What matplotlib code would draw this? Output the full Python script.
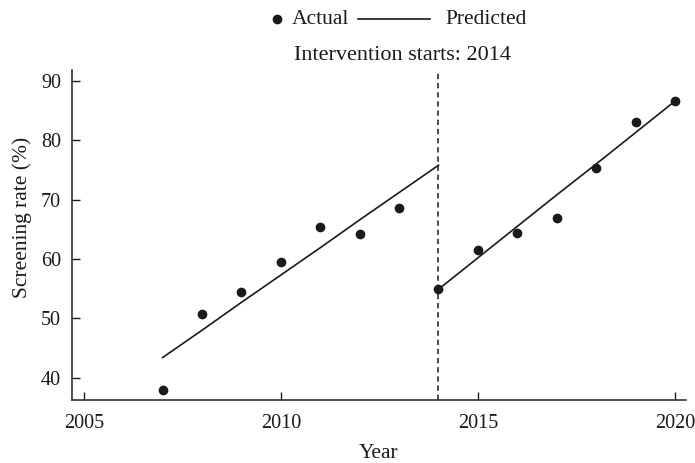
import numpy as np
import matplotlib.pyplot as plt
from matplotlib.lines import Line2D

plt.rcParams['font.family'] = ['Liberation Serif', 'DejaVu Serif']
plt.rcParams['font.size'] = 15.5

years_pre = [2007, 2008, 2009, 2010, 2011, 2012, 2013]
actual_pre = [38.0, 50.8, 54.4, 59.5, 65.4, 64.2, 68.6]
years_post = [2014, 2015, 2016, 2017, 2018, 2019, 2020]
actual_post = [55.0, 61.5, 64.3, 66.9, 75.4, 83.1, 86.6]

pred_years_pre = [2007, 2008, 2009, 2010, 2011, 2012, 2013, 2014]
pred_pre = [43.4, 48.0, 52.7, 57.3, 61.9, 66.6, 71.2, 75.8]
pred_years_post = [2014, 2015, 2016, 2017, 2018, 2019, 2020]
pred_post = [54.9, 60.2, 65.5, 70.8, 76.0, 81.3, 86.6]

intervention_year = 2014
ink = '#1a1a1a'

fig = plt.figure(figsize=(6.95, 4.63), dpi=100)
ax = fig.add_axes([0.1036, 0.1354, 0.8834, 0.7134])

ax.plot(pred_years_pre, pred_pre, color=ink, lw=1.2)
ax.plot(pred_years_post, pred_post, color=ink, lw=1.2)
ax.plot(years_pre + years_post, actual_pre + actual_post, 'o', color=ink, ms=7, mec='none')
ax.axvline(intervention_year, color=ink, lw=1.1, ls=(0, (3.5, 2.5)))
fig.text(402 / 695, 1 - 55 / 463, 'Intervention starts: %d' % intervention_year,
         ha='center', va='center', color=ink, fontsize=16)

ax.set_xlim(2004.70, 2020.28)
ax.set_ylim(36.19, 91.85)
ax.set_xticks([2005, 2010, 2015, 2020])
ax.set_yticks([40, 50, 60, 70, 80, 90])
ax.tick_params(direction='in', length=6, width=1, colors=ink, labelcolor=ink, labelsize=14.5)
ax.tick_params(axis='x', pad=10)
ax.tick_params(axis='y', pad=8)
ax.spines['top'].set_visible(False)
ax.spines['right'].set_visible(False)
for s in ('left', 'bottom'):
    ax.spines[s].set_color('#333333')
    ax.spines[s].set_linewidth(1.2)
ax.set_xlabel('Year', color=ink, labelpad=8)
ax.set_ylabel('Screening rate (%)', color=ink)
ax.yaxis.set_label_coords(-0.065, 0.555)

# legend drawn by hand so the dot sits next to its label
ly = 1 - 19 / 463
fig.add_artist(Line2D([277 / 695], [ly], ls='none', marker='o', color=ink, ms=7, mec='none'))
fig.text(292 / 695, ly, 'Actual', ha='left', va='center', color=ink)
fig.add_artist(Line2D([358 / 695, 430 / 695], [ly, ly], color=ink, lw=1.2))
fig.text(445 / 695, ly, 'Predicted', ha='left', va='center', color=ink)

fig.savefig('out.png', dpi=100)
